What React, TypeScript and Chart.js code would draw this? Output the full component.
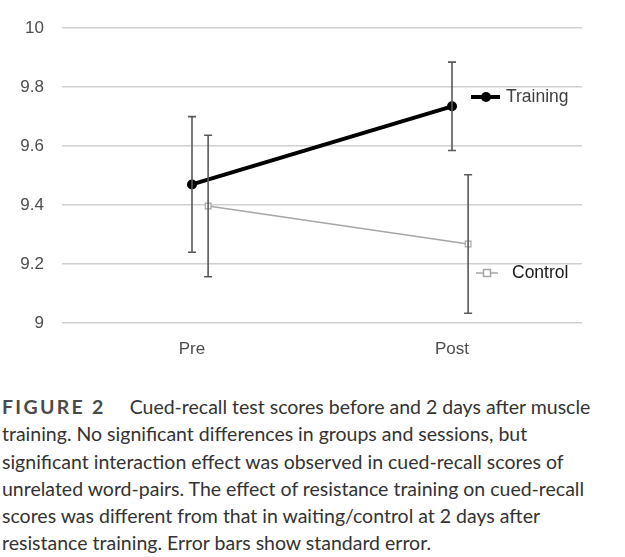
import React, { useEffect, useRef } from "react";
import { Chart, registerables } from "chart.js";

Chart.register(...registerables);

const categories = ["Pre", "Post"];
const seriesNames = ["Training", "Control"];
const trainingMean = [9.47, 9.735];
const trainingSE = [0.23, 0.15];
const controlMean = [9.397, 9.268];
const controlSE = [0.24, 0.235];
const yMin = 9;
const yMax = 10;
const yStep = 0.2;
const captionLines = [
  "Cued-recall test scores before and 2 days after muscle",
  "training. No significant differences in groups and sessions, but",
  "significant interaction effect was observed in cued-recall scores of",
  "unrelated word-pairs. The effect of resistance training on cued-recall",
  "scores was different from that in waiting/control at 2 days after",
  "resistance training. Error bars show standard error.",
];

const CONTROL_SHIFT = 0.062;
const AXIS_FONT = "'Liberation Sans', Arial, sans-serif";

const errorBarPlugin = {
  id: "errorBars",
  afterDatasetsDraw(chart: any) {
    const ctx = chart.ctx;
    const xs = chart.scales.x;
    const ys = chart.scales.y;
    const groups = [
      { mean: trainingMean, se: trainingSE, shift: 0 },
      { mean: controlMean, se: controlSE, shift: CONTROL_SHIFT },
    ];
    ctx.save();
    ctx.strokeStyle = "#595959";
    ctx.lineWidth = 1.6;
    groups.forEach((g) => {
      g.mean.forEach((m, i) => {
        const px = xs.getPixelForValue(i + 1 + g.shift);
        const top = ys.getPixelForValue(m + g.se[i]);
        const bot = ys.getPixelForValue(m - g.se[i]);
        ctx.beginPath();
        ctx.moveTo(px, top);
        ctx.lineTo(px, bot);
        ctx.moveTo(px - 4, top);
        ctx.lineTo(px + 4, top);
        ctx.moveTo(px - 4, bot);
        ctx.lineTo(px + 4, bot);
        ctx.stroke();
      });
    });
    ctx.restore();
  },
};

const inlineLegendPlugin = {
  id: "inlineLegend",
  afterDraw(chart: any) {
    const ctx = chart.ctx;
    ctx.save();
    const ty = 97;
    ctx.strokeStyle = "#000";
    ctx.lineWidth = 4;
    ctx.beginPath();
    ctx.moveTo(471, ty);
    ctx.lineTo(500, ty);
    ctx.stroke();
    ctx.fillStyle = "#000";
    ctx.beginPath();
    ctx.arc(486, ty, 5, 0, Math.PI * 2);
    ctx.fill();
    ctx.font = "17.5px " + AXIS_FONT;
    ctx.textBaseline = "middle";
    ctx.textAlign = "left";
    ctx.fillStyle = "#404040";
    ctx.fillText(seriesNames[0], 506, ty);
    const cy = 273;
    ctx.strokeStyle = "#a6a6a6";
    ctx.lineWidth = 1.5;
    ctx.beginPath();
    ctx.moveTo(476, cy);
    ctx.lineTo(498, cy);
    ctx.stroke();
    ctx.fillStyle = "#fff";
    ctx.fillRect(483.5, cy - 3.5, 7, 7);
    ctx.strokeRect(483.5, cy - 3.5, 7, 7);
    ctx.fillStyle = "#1a1a1a";
    ctx.fillText(seriesNames[1], 512, cy);
    ctx.restore();
  },
};

function ChartBox() {
  const ref = useRef<HTMLCanvasElement | null>(null);
  useEffect(() => {
    if (!ref.current) return;
    const chart = new Chart(ref.current, {
      type: "scatter",
      data: {
        datasets: [
          {
            label: seriesNames[1],
            data: controlMean.map((v, i) => ({ x: i + 1 + CONTROL_SHIFT, y: v })),
            showLine: true,
            borderColor: "#a6a6a6",
            borderWidth: 1.5,
            pointStyle: "rect",
            pointRadius: 4,
            pointBackgroundColor: "#ffffff",
            pointBorderColor: "#a6a6a6",
            pointBorderWidth: 1.2,
            order: 2,
          } as any,
          {
            label: seriesNames[0],
            data: trainingMean.map((v, i) => ({ x: i + 1, y: v })),
            showLine: true,
            borderColor: "#000000",
            borderWidth: 4,
            pointStyle: "circle",
            pointRadius: 5,
            pointBackgroundColor: "#000000",
            pointBorderColor: "#000000",
            pointBorderWidth: 0,
            order: 1,
          } as any,
        ],
      },
      options: {
        animation: false,
        responsive: false,
        layout: { padding: { top: 23, right: 43, left: 0, bottom: 0 } },
        plugins: { legend: { display: false }, tooltip: { enabled: false } },
        scales: {
          x: {
            type: "linear",
            min: 0.5,
            max: 2.5,
            afterBuildTicks: (s: any) => {
              s.ticks = categories.map((_, i) => ({ value: i + 1 }));
            },
            afterFit: (s: any) => {
              s.height = 37;
            },
            grid: { display: false, drawTicks: false },
            border: { display: false },
            ticks: {
              padding: 16,
              color: "#4d4d4d",
              font: { size: 17, family: AXIS_FONT },
              callback: (v: any) => categories[Number(v) - 1] ?? "",
            },
          },
          y: {
            min: yMin,
            max: yMax,
            afterFit: (s: any) => {
              s.width = 62;
            },
            grid: { color: "#d0d0d0", lineWidth: 1.5, drawTicks: false },
            border: { display: false },
            ticks: {
              stepSize: yStep,
              padding: 18,
              color: "#4d4d4d",
              font: { size: 17, family: AXIS_FONT },
              callback: (v: any) => String(Number(Number(v).toFixed(1))),
            },
          },
        },
      },
      plugins: [errorBarPlugin, inlineLegendPlugin],
    });
    return () => chart.destroy();
  }, []);
  return <canvas ref={ref} width={625} height={360} style={{ display: "block" }} />;
}

export default function App() {
  return (
    <div style={{ position: "absolute", left: 0, top: 0, width: 625, height: 557, background: "#fff" }}>
      <ChartBox />
      <div
        style={{
          position: "absolute",
          left: 2,
          top: 393,
          fontFamily: "Lato, 'Open Sans', sans-serif",
          fontSize: 19.5,
          lineHeight: "27.3px",
          color: "#333333",
          whiteSpace: "nowrap",
        }}
      >
        {captionLines.map((line, i) => (
          <div key={i}>
            {i === 0 && (
              <span style={{ fontWeight: 700, letterSpacing: "2.3px", color: "#4a4a4a", marginRight: 24 }}>
                FIGURE 2
              </span>
            )}
            {line}
          </div>
        ))}
      </div>
    </div>
  );
}
